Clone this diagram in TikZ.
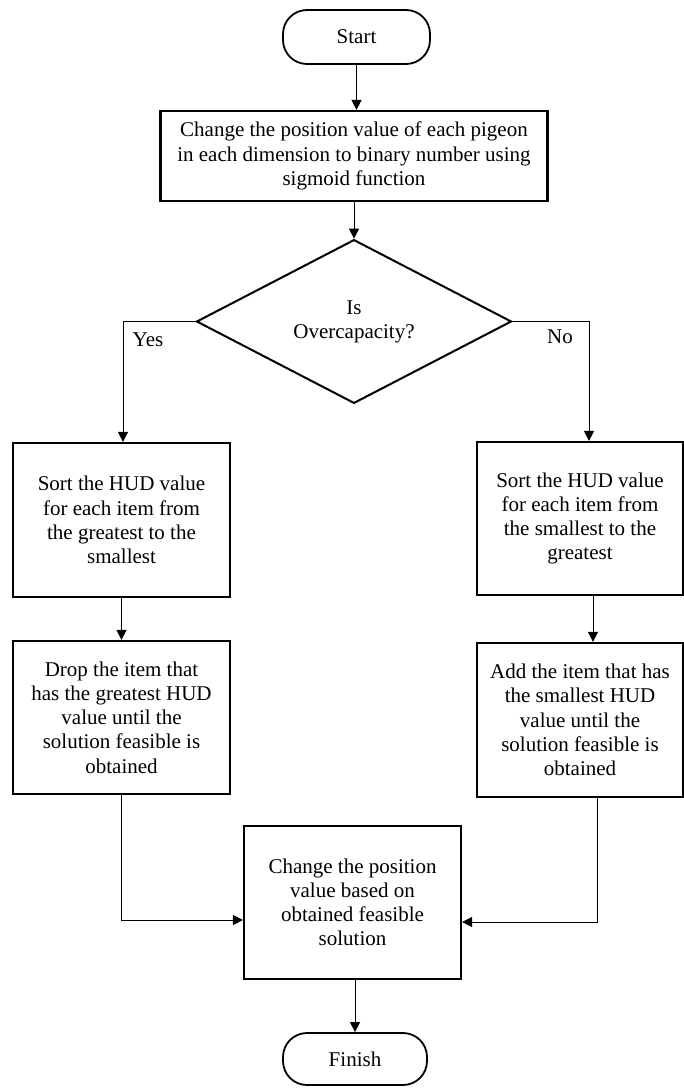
\documentclass[tikz,border=0pt]{standalone}
\usepackage{fontspec}
\setmainfont{Liberation Serif}
\usetikzlibrary{shapes.geometric,arrows.meta}
\begin{document}
\begin{tikzpicture}[x=1pt,y=-1pt,
  every node/.style={font=\fontsize{21}{24.2}\selectfont, align=center, inner sep=0pt},
  procbox/.style={draw, line width=2.2pt, rectangle},
  termbox/.style={draw, line width=1.8pt, rectangle, rounded corners=24pt},
  decbox/.style={draw, line width=2pt, diamond},
  arr/.style={line width=1pt, -{Triangle[length=10pt,width=10pt]}},
  lbl/.style={font=\fontsize{21}{24.2}\selectfont}
]
\useasboundingbox (0,0) rectangle (684,1089);
\clip (0,0) rectangle (684,1089);
\fill[white] (0,0) rectangle (684,1089);

\node[termbox, minimum width=147pt, minimum height=54pt] (start) at (356.5,37) {Start};
\node[procbox, minimum width=387pt, minimum height=90pt] (b1) at (354,156)
  {Change the position value of each pigeon\\in each dimension to binary number using\\sigmoid function};
\node[decbox, minimum width=315pt, minimum height=145pt] (dec) at (354,321.5) {Is\\Overcapacity?};

\node[procbox, minimum width=217pt, minimum height=154pt] (l2) at (121.5,520)
  {Sort the HUD value\\for each item from\\the greatest to the\\smallest};
\node[procbox, minimum width=206pt, minimum height=153pt] (r2) at (580,518.5)
  {Sort the HUD value\\for each item from\\the smallest to the\\greatest};

\node[procbox, minimum width=217pt, minimum height=153pt] (l3) at (121.5,717.5)
  {Drop the item that\\has the greatest HUD\\value until the\\solution feasible is\\obtained};
\node[procbox, minimum width=206pt, minimum height=154pt] (r3) at (580,720)
  {Add the item that has\\the smallest HUD\\value until the\\solution feasible is\\obtained};

\node[procbox, minimum width=217pt, minimum height=153pt] (bb) at (352.5,902.5)
  {Change the position\\value based on\\obtained feasible\\solution};
\node[termbox, minimum width=144pt, minimum height=52pt] (fin) at (355,1059) {Finish};

\node[lbl] (yes) at (148,340) {Yes};
\node[lbl] (no) at (560,337) {No};

\draw[arr] (start.south) -- (start.south |- b1.north);
\draw[arr] (b1.south) -- (dec.north);
\draw[arr] (dec.west) -| ([xshift=1.5pt]l2.north);
\draw[arr] (dec.east) -| ([xshift=9pt]r2.north);
\draw[arr] (l2.south) -- (l3.north);
\draw[arr] ([xshift=13pt]r2.south) -- ([xshift=13pt]r3.north);
\draw[arr] (l3.south) |- ([yshift=-17.5pt]bb.west);
\draw[arr] ([xshift=17pt]r3.south) |- ([yshift=-19.5pt]bb.east);
\draw[arr] (fin.north |- bb.south) -- (fin.north);
\end{tikzpicture}
\end{document}
